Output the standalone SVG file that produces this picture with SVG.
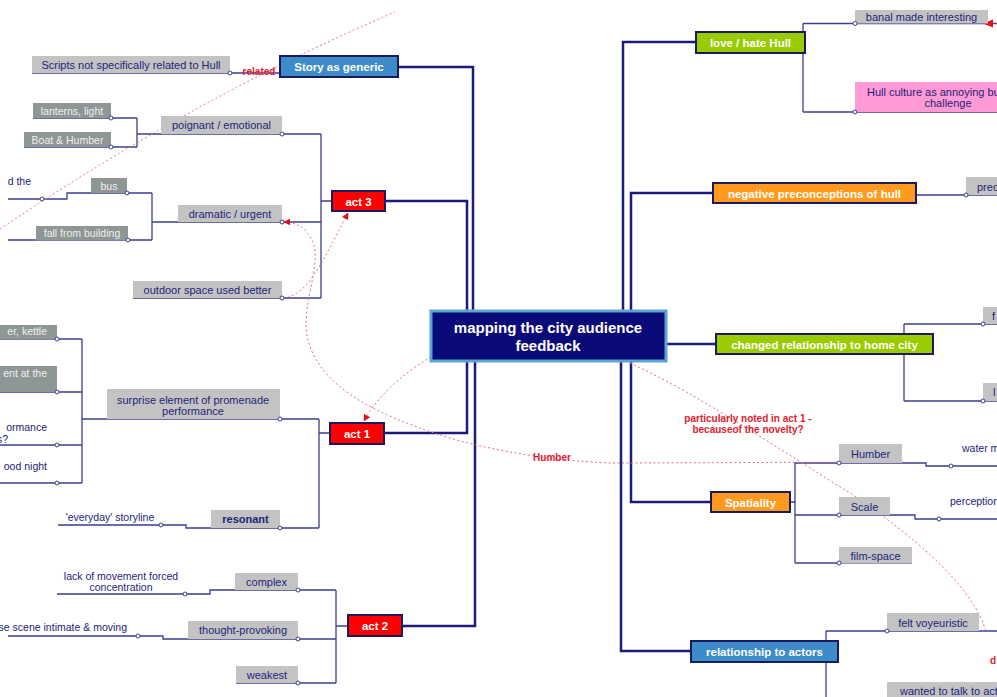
<svg xmlns="http://www.w3.org/2000/svg" width="997" height="697" viewBox="0 0 997 697">
  <style>
    text { font-family: "Liberation Sans", Arial, sans-serif; }
    .trunk { stroke: #1b1b7c; stroke-width: 2.5; fill: none; }
    .lnk { stroke: #3d3d8e; stroke-width: 1.3; fill: none; }
    .dot { fill: #ffffff; stroke: #3d3d8e; stroke-width: 1; }
    .rel { stroke: #e07080; stroke-width: 1; stroke-dasharray: 2 2.5; fill: none; }
    .main rect { stroke: #1a1a5e; stroke-width: 2; }
    .main text { font-size: 11.5px; font-weight: bold; fill: #ffffff; text-anchor: middle; }
    .sub rect { fill: #c3c3c3; }
    .sub text { font-size: 11px; fill: #23237a; text-anchor: middle; }
    .sub2 rect { fill: #8e9696; }
    .sub2 text { font-size: 10.5px; fill: #eef0ee; text-anchor: middle; }
    .note { font-size: 10.5px; fill: #23237a; text-anchor: middle; }
    .rlab { font-size: 10px; font-weight: bold; fill: #e3202c; text-anchor: middle; }
    .blue { fill: #3d8bc9; }
    .red { fill: #ff0000; }
    .green { fill: #99cc00; }
    .orange { fill: #ff9a1e; }
  </style>
  <defs>
    <marker id="arr" viewBox="0 0 10 10" refX="9" refY="5" markerWidth="7" markerHeight="7" orient="auto" markerUnits="userSpaceOnUse">
      <path d="M0 0 L10 5 L0 10 Z" fill="#e3101c"/>
    </marker>
  </defs>

  <rect width="997" height="697" fill="#ffffff"/>

  <!-- connectors -->
  <g id="connectors">
    <!-- trunk lines from the centre -->
    <path class="trunk" d="M398 67 H473 V311"/>
    <path class="trunk" d="M385 201 H467 V311"/>
    <path class="trunk" d="M384 433 H467 V361"/>
    <path class="trunk" d="M402 626 H475 V361"/>
    <path class="trunk" d="M696 42 H623 V311"/>
    <path class="trunk" d="M713 193 H631 V311"/>
    <path class="trunk" d="M666 344 H716"/>
    <path class="trunk" d="M711 502 H631 V361"/>
    <path class="trunk" d="M691 651 H621 V361"/>

    <!-- story as generic -->
    <path class="lnk" d="M32 73 H280"/>

    <!-- act 3 -->
    <path class="lnk" d="M321 134 V298 M321 201 H332"/>
    <path class="lnk" d="M137 134 H321"/>
    <path class="lnk" d="M152 222 H321"/>
    <path class="lnk" d="M133 298 H321"/>
    <path class="lnk" d="M137 118 V147"/>
    <path class="lnk" d="M33 118 H137"/>
    <path class="lnk" d="M24 147 H137"/>
    <path class="lnk" d="M152 193 V240"/>
    <path class="lnk" d="M8 199 H67 V193 H152"/>
    <path class="lnk" d="M8 240 H152"/>

    <!-- act 1 -->
    <path class="lnk" d="M319 419 V528 M319 433 H330"/>
    <path class="lnk" d="M82 419 H319"/>
    <path class="lnk" d="M58 525 H186 V528 H319"/>
    <path class="lnk" d="M82 339 V483"/>
    <path class="lnk" d="M0 339 H82"/>
    <path class="lnk" d="M0 392 H82"/>
    <path class="lnk" d="M0 445 H82"/>
    <path class="lnk" d="M0 483 H82"/>

    <!-- act 2 -->
    <path class="lnk" d="M336 590 V683 M336 626 H348"/>
    <path class="lnk" d="M57 594 H210 V590 H336"/>
    <path class="lnk" d="M8 636 H163 V639 H336"/>
    <path class="lnk" d="M236 683 H336"/>

    <!-- love / hate Hull -->
    <path class="lnk" d="M803 23.5 V112"/>
    <path class="lnk" d="M803 23.5 H997"/>
    <path class="lnk" d="M803 112 H997"/>

    <!-- negative preconceptions -->
    <path class="lnk" d="M916 195 H997"/>

    <!-- changed relationship -->
    <path class="lnk" d="M904 324 V401"/>
    <path class="lnk" d="M904 324 H997"/>
    <path class="lnk" d="M904 401 H997"/>

    <!-- spatiality -->
    <path class="lnk" d="M795 463 V563 M790 502 H795"/>
    <path class="lnk" d="M795 463 H926 V466 H997"/>
    <path class="lnk" d="M795 515 H915 V519 H997"/>
    <path class="lnk" d="M795 563 H912"/>

    <!-- relationship to actors -->
    <path class="lnk" d="M826 631 V697"/>
    <path class="lnk" d="M826 631 H997"/>

    <!-- dotted relationships -->
    <path class="rel" d="M0 229 Q198 96 395 12"/>
    <path class="rel" d="M283 298 C308 296 322 262 348 213" marker-end="url(#arr)"/>
    <path class="rel" d="M903 462 L610 463 C540 460 470 447 420 428 C370 410 320 385 308 340 C300 310 320 270 314 245 C308 228 296 222 284 222" marker-end="url(#arr)"/>
    <path class="rel" d="M431 357 C405 372 378 395 364 421" marker-end="url(#arr)"/>
    <path class="rel" d="M630 363 C700 395 780 450 850 493 C920 540 975 590 986 632"/>
    <path d="M983 23.5 L993 19.5 L993 27.5 Z" fill="#e3101c"/>

    <!-- relationship labels -->
    <text class="rlab" x="259" y="75">related</text>
    <text class="rlab" x="552" y="461">Humber</text>
    <text class="rlab" x="748" y="422">particularly noted in act 1 -</text>
    <text class="rlab" x="748" y="433">becauseof the novelty?</text>
    <text class="rlab" x="990" y="664" style="text-anchor:start">d</text>
  </g>

  <!-- central topic -->
  <g id="central">
    <rect x="431" y="311" width="235" height="50" fill="#0a0a78" stroke="#5ba4d4" stroke-width="3"/>
    <text x="548" y="333" font-size="15" font-weight="bold" fill="#ffffff" text-anchor="middle">mapping the city audience</text>
    <text x="548" y="351" font-size="15" font-weight="bold" fill="#ffffff" text-anchor="middle">feedback</text>
  </g>

  <!-- main topics -->
  <g id="story-generic" class="main"><rect class="blue" x="280" y="56" width="118" height="21"/><text x="339" y="71">Story as generic</text></g>
  <g id="act3" class="main"><rect class="red" x="332" y="191" width="53" height="20"/><text x="358.5" y="205.5">act 3</text></g>
  <g id="act1" class="main"><rect class="red" x="330" y="423" width="54" height="21"/><text x="357" y="437.5">act 1</text></g>
  <g id="act2" class="main"><rect class="red" x="348" y="615" width="54" height="21"/><text x="375" y="629.5">act 2</text></g>
  <g id="love-hate" class="main"><rect class="green" x="696" y="32" width="109" height="21"/><text x="750.5" y="46.5">love / hate Hull</text></g>
  <g id="negative" class="main"><rect class="orange" x="713" y="183" width="203" height="20"/><text x="814.5" y="197.5">negative preconceptions of hull</text></g>
  <g id="changed" class="main"><rect class="green" x="716" y="334" width="217" height="20"/><text x="824.5" y="348.5">changed relationship to home city</text></g>
  <g id="spatiality" class="main"><rect class="orange" x="711" y="492" width="79" height="20"/><text x="750.5" y="506.5">Spatiality</text></g>
  <g id="actors" class="main"><rect class="blue" x="691" y="641" width="147" height="21"/><text x="764.5" y="655.5">relationship to actors</text></g>

  <!-- subtopics: left -->
  <g id="scripts" class="sub"><rect x="32" y="56" width="198" height="17"/><text x="131" y="69">Scripts not specifically related to Hull</text><circle class="dot" cx="230" cy="73" r="2"/></g>
  <g id="poignant" class="sub"><rect x="161" y="116" width="121" height="18"/><text x="221.5" y="129">poignant / emotional</text><circle class="dot" cx="282" cy="134" r="2"/></g>
  <g id="dramatic" class="sub"><rect x="178" y="205" width="104" height="17"/><text x="230" y="218">dramatic / urgent</text><circle class="dot" cx="282" cy="222" r="2"/></g>
  <g id="outdoor" class="sub"><rect x="133" y="281" width="149" height="17"/><text x="207.5" y="294">outdoor space used better</text><circle class="dot" cx="282" cy="298" r="2"/></g>
  <g id="lanterns" class="sub2"><rect x="33" y="103" width="78" height="15"/><text x="72" y="114.5">lanterns, light</text><circle class="dot" cx="111" cy="118" r="2"/></g>
  <g id="boat" class="sub2"><rect x="24" y="132" width="87" height="15"/><text x="67.5" y="143.5">Boat &amp; Humber</text><circle class="dot" cx="111" cy="147" r="2"/></g>
  <g id="bus" class="sub2"><rect x="91" y="178" width="36" height="15"/><text x="109" y="189.5">bus</text><circle class="dot" cx="127" cy="193" r="2"/></g>
  <g id="bus-note"><text class="note" x="31" y="185" style="text-anchor:end">d the</text><circle class="dot" cx="42" cy="199" r="2"/></g>
  <g id="fall" class="sub2"><rect x="36" y="226" width="92" height="14.5"/><text x="82" y="237">fall from building</text><circle class="dot" cx="128" cy="240" r="2"/></g>

  <g id="surprise" class="sub"><rect x="107" y="389" width="173" height="30"/><text x="193" y="403.5">surprise element of promenade</text><text x="193" y="415">performance</text><circle class="dot" cx="280" cy="419" r="2"/></g>
  <g id="kettle" class="sub2"><rect x="0" y="325" width="57" height="14.5"/><text x="47" y="335" style="text-anchor:end">er, kettle</text><circle class="dot" cx="57" cy="339" r="2"/></g>
  <g id="at-the" class="sub2"><rect x="0" y="366" width="57" height="26"/><text x="47" y="377" style="text-anchor:end">ent at the</text><circle class="dot" cx="57" cy="392" r="2"/></g>
  <g id="ormance"><text class="note" x="47" y="431" style="text-anchor:end">ormance</text><text class="note" x="8" y="443" style="text-anchor:end">s?</text><circle class="dot" cx="57" cy="445" r="2"/></g>
  <g id="good-night"><text class="note" x="47" y="470" style="text-anchor:end">ood night</text><circle class="dot" cx="57" cy="483" r="2"/></g>
  <g id="resonant" class="sub"><rect x="211" y="510" width="69" height="18"/><text x="245.5" y="523" font-weight="bold">resonant</text><circle class="dot" cx="280" cy="528" r="2"/></g>
  <g id="everyday"><text class="note" x="110" y="521">'everyday' storyline</text><circle class="dot" cx="161" cy="525" r="2"/></g>

  <g id="complex" class="sub"><rect x="235" y="573" width="63" height="17"/><text x="266.5" y="586">complex</text><circle class="dot" cx="298" cy="590" r="2"/></g>
  <g id="lack-movement"><text class="note" x="121" y="580" font-size="10">lack of movement forced</text><text class="note" x="121" y="591" font-size="10">concentration</text><circle class="dot" cx="185" cy="594" r="2"/></g>
  <g id="thought" class="sub"><rect x="188" y="621" width="110" height="18"/><text x="243" y="634">thought-provoking</text><circle class="dot" cx="298" cy="639" r="2"/></g>
  <g id="intimate"><text class="note" x="127" y="631" font-size="10" style="text-anchor:end">se scene intimate &amp; moving</text><circle class="dot" cx="138" cy="636" r="2"/></g>
  <g id="weakest" class="sub"><rect x="236" y="666" width="62" height="17"/><text x="267" y="679">weakest</text><circle class="dot" cx="298" cy="683" r="2"/></g>

  <!-- subtopics: right -->
  <g id="banal" class="sub"><rect x="855" y="10" width="133" height="13.5"/><text x="921.5" y="20.5">banal made interesting</text><circle class="dot" cx="855" cy="23.5" r="2"/></g>
  <g id="hull-culture" class="sub"><rect x="855" y="82" width="145" height="30" fill="#ff9ad6" style="fill:#ff9ad6"/><text x="867" y="95.5" style="text-anchor:start">Hull culture as annoying bu</text><text x="948" y="107">challenge</text><circle class="dot" cx="855" cy="112" r="2"/></g>
  <g id="prec" class="sub"><rect x="966" y="177" width="35" height="18"/><text x="977" y="191" style="text-anchor:start">prec</text><circle class="dot" cx="966" cy="195" r="2"/></g>
  <g id="changed-a" class="sub"><rect x="983" y="307" width="20" height="17"/><text x="992" y="320" style="text-anchor:start">f</text><circle class="dot" cx="983" cy="324" r="2"/></g>
  <g id="changed-b" class="sub"><rect x="983" y="383" width="20" height="18"/><text x="993" y="396" style="text-anchor:start">l</text><circle class="dot" cx="983" cy="401" r="2"/></g>
  <g id="humber" class="sub"><rect x="839" y="444" width="63" height="19"/><text x="870.5" y="458">Humber</text><circle class="dot" cx="839" cy="463" r="2"/></g>
  <g id="water"><text class="note" x="962" y="452" style="text-anchor:start">water m</text><circle class="dot" cx="951" cy="466" r="2"/></g>
  <g id="scale" class="sub"><rect x="839" y="497" width="51" height="18"/><text x="864.5" y="511">Scale</text><circle class="dot" cx="839" cy="515" r="2"/></g>
  <g id="perceptions"><text class="note" x="950" y="505" style="text-anchor:start">perceptions</text><circle class="dot" cx="939" cy="519" r="2"/></g>
  <g id="film-space" class="sub"><rect x="839" y="547" width="73" height="16.5"/><text x="875.5" y="559.5">film-space</text><circle class="dot" cx="839" cy="563" r="2"/></g>
  <g id="voyeuristic" class="sub"><rect x="887" y="613" width="92" height="18"/><text x="933" y="627">felt voyeuristic</text><circle class="dot" cx="887" cy="631" r="2"/></g>
  <g id="wanted" class="sub"><rect x="887" y="682" width="115" height="18"/><text x="900" y="694.5" style="text-anchor:start">wanted to talk to act</text></g>
</svg>
